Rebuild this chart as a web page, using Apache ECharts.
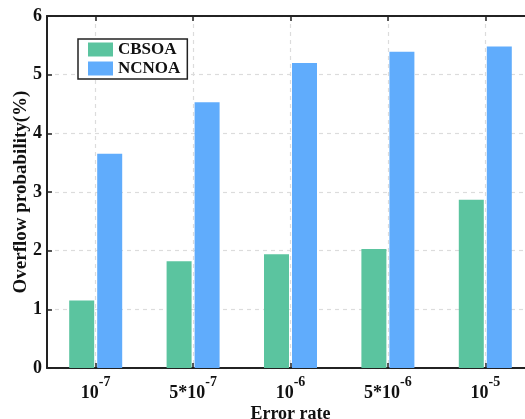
<!DOCTYPE html>
<html><head><meta charset="utf-8">
<script src="https://cdn.jsdelivr.net/npm/echarts@6/dist/echarts.min.js"></script>
<style>html,body{margin:0;padding:0;background:#fff}#c{width:525px;height:419px}</style>
</head><body><div id="c"></div>
<script>
const categories = ['10^-7', '5*10^-7', '10^-6', '5*10^-6', '10^-5'];
const seriesNames = ['CBSOA', 'NCNOA'];
const cbsoa = [1.15, 1.82, 1.94, 2.03, 2.87];
const ncnoa = [3.65, 4.53, 5.20, 5.39, 5.48];
const yTicks = [0, 1, 2, 3, 4, 5, 6];

const FONT = "'Liberation Serif', 'Times New Roman', serif";
const INK = '#111';
const axisLine = { show: true, lineStyle: { color: '#222', width: 2 } };
const dashed = { show: true, lineStyle: { color: '#dcdcdc', type: [4, 4], width: 1.2 } };

const chart = echarts.init(document.getElementById('c'));
chart.setOption({
  animation: false,
  textStyle: { fontFamily: FONT },
  color: ['#5BC49F', '#60ACFC'],
  grid: { left: 47, width: 487, top: 16, height: 352, containLabel: false, outerBoundsMode: 'none' },
  legend: {
    orient: 'vertical', left: 78, top: 39,
    itemWidth: 25, itemHeight: 14, itemGap: 2,
    padding: [2, 7, 2, 10],
    borderColor: '#222', borderWidth: 1.5, backgroundColor: '#fff',
    icon: 'rect',
    textStyle: { fontFamily: FONT, fontWeight: 'bold', fontSize: 17, color: INK },
    data: seriesNames
  },
  xAxis: [{
    type: 'category', data: categories, position: 'bottom',
    axisLine: axisLine,
    axisTick: { show: true, inside: true, length: 5, alignWithLabel: true, lineStyle: { color: '#222', width: 1.5 } },
    splitLine: Object.assign({ alignWithLabel: true }, dashed),
    axisLabel: {
      margin: 7,
      formatter: function (v) {
        const p = v.split('^');
        return '{b|' + p[0] + '}{s|' + p[1] + '}';
      },
      rich: {
        b: { fontFamily: FONT, fontWeight: 'bold', fontSize: 18, lineHeight: 27, verticalAlign: 'bottom', color: INK },
        s: { fontFamily: FONT, fontWeight: 'bold', fontSize: 14, lineHeight: 14, verticalAlign: 'top', color: INK }
      }
    },
    name: 'Error rate', nameLocation: 'middle', nameGap: 37, nameMoveOverlap: false,
    nameTextStyle: { fontFamily: FONT, fontWeight: 'bold', fontSize: 18, color: INK }
  }, {
    type: 'category', data: categories, position: 'top',
    axisLine: axisLine,
    axisTick: { show: true, inside: true, length: 5, alignWithLabel: true, lineStyle: { color: '#222', width: 1.5 } },
    axisLabel: { show: false }, splitLine: { show: false }
  }],
  yAxis: {
    type: 'value', min: yTicks[0], max: yTicks[yTicks.length - 1], interval: 1,
    axisLine: axisLine,
    axisTick: { show: true, inside: true, length: 5, lineStyle: { color: '#222', width: 1.5 } },
    splitLine: dashed,
    axisLabel: { margin: 5, fontFamily: FONT, fontWeight: 'bold', fontSize: 18, color: INK },
    name: 'Overflow probability(%)', nameLocation: 'middle', nameGap: 16, nameMoveOverlap: false,
    nameTextStyle: { fontFamily: FONT, fontWeight: 'bold', fontSize: 19, color: INK }
  },
  series: [
    { name: seriesNames[0], type: 'bar', data: cbsoa, barWidth: 25, barGap: '12%' },
    { name: seriesNames[1], type: 'bar', data: ncnoa, barWidth: 25, barGap: '12%' }
  ]
});
</script></body></html>
